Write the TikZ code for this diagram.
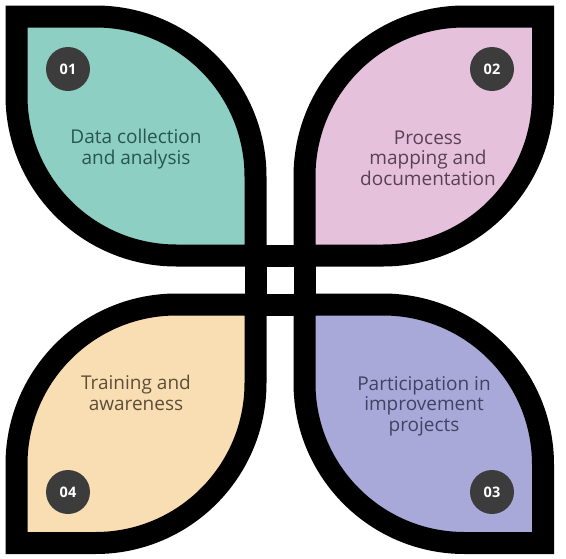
\documentclass[tikz,border=0pt]{standalone}
\usepackage{fontspec}
\setmainfont{Open Sans}
\usetikzlibrary{positioning}
\definecolor{leafteal}{RGB}{141,207,194}
\definecolor{leafpink}{RGB}{229,193,220}
\definecolor{leafpeach}{RGB}{250,222,179}
\definecolor{leaflilac}{RGB}{168,169,217}
\definecolor{txtteal}{RGB}{40,86,78}
\definecolor{txtpink}{RGB}{90,64,86}
\definecolor{txtpeach}{RGB}{92,78,56}
\definecolor{txtlilac}{RGB}{66,66,100}
\definecolor{numgray}{RGB}{60,60,60}
\tikzstyle{leaf} = [draw=black, line width=22pt, miter limit=10]
\tikzstyle{bar} = [draw=black, line width=22pt]
\tikzstyle{num} = [circle, minimum size=44pt, inner sep=0pt, fill=numgray, text=white, font=\bfseries\fontsize{14.5}{14.5}\selectfont]
\tikzstyle{leaftext} = [align=center, inner sep=0pt, font=\fontsize{19}{20.5}\selectfont]

\begin{document}
\begin{tikzpicture}[x=1pt, y=-1pt]
            \useasboundingbox (0,0) rectangle (566,558);
            
            % Leaves
            % Top left
            \path [leaf, fill=leafteal] (16.5,16.5) -- (95.5,16.5) .. controls (183.9,16.5) and (255.5,88.1) .. (255.5,176.5) -- (255.5,255.5) -- (176.5,255.5) .. controls (88.1,255.5) and (16.5,183.9) .. (16.5,95.5) -- cycle;
            % Top right
            \path [leaf, fill=leafpink] (543,16.5) -- (543,95.5) .. controls (543,183.9) and (471.4,255.5) .. (383,255.5) -- (304.5,255.5) -- (304.5,176.5) .. controls (304.5,88.1) and (376.1,16.5) .. (464.5,16.5) -- cycle;
            % Bottom right
            \path [leaf, fill=leaflilac] (304.5,304.5) -- (383,304.5) .. controls (471.4,304.5) and (543,376.1) .. (543,464.5) -- (543,543) -- (464.5,543) .. controls (376.1,543) and (304.5,471.4) .. (304.5,383) -- cycle;
            % Bottom left
            \path [leaf, fill=leafpeach] (16.5,543) -- (16.5,464.5) .. controls (16.5,376.1) and (88.1,304.5) .. (176.5,304.5) -- (255.5,304.5) -- (255.5,383) .. controls (255.5,471.4) and (183.9,543) .. (95.5,543) -- cycle;
            
            % Crossing bars
            \path [bar] (245,255.5) -- (316,255.5);
            \path [bar] (245,304.5) -- (316,304.5);
            \path [bar] (255.5,245) -- (255.5,316);
            \path [bar] (304.5,245) -- (304.5,316);
            
            % Numbers
            \node (n01) [num] at (68,69) {01};
            \node (n02) [num] at (492,69) {02};
            \node (n03) [num] at (492,492) {03};
            \node (n04) [num] at (68,492) {04};
            
            % Texts
            \node (t01) [leaftext, text=txtteal] at (136,149) {Data collection\\and analysis};
            \node (t02) [leaftext, text=txtpink] at (428,158) {Process\\mapping and\\documentation};
            \node (t03) [leaftext, text=txtlilac] at (424,406) {Participation in\\improvement\\projects};
            \node (t04) [leaftext, text=txtpeach] at (136,393) {Training and\\awareness};
\end{tikzpicture}
\end{document}
